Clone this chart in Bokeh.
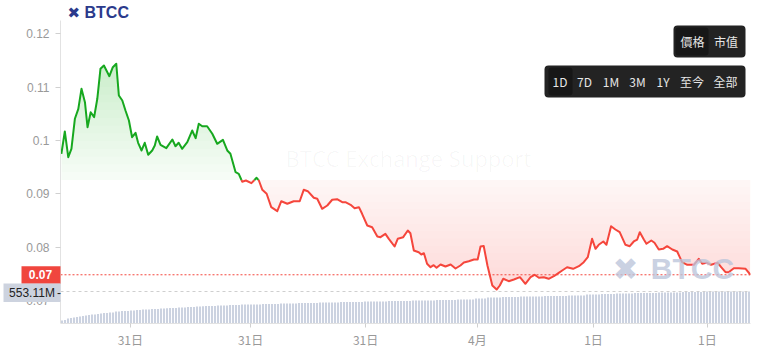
import numpy as np
from bokeh.plotting import figure
from bokeh.models import Range1d, FixedTicker, Label, BoxAnnotation
from bokeh.embed import file_html
from bokeh.resources import INLINE

# ---------------- data ----------------
time_h = [0.03, 0.15, 0.27, 0.38, 0.50, 0.62, 0.73, 0.85, 0.94, 1.05,
          1.17, 1.28, 1.39, 1.51, 1.70, 1.82, 1.94, 2.03, 2.15, 2.26,
          2.38, 2.49, 2.61, 2.70, 2.82, 2.93, 3.05, 3.19, 3.28, 3.36,
          3.48, 3.68, 3.89, 4.00, 4.11, 4.23, 4.41, 4.58, 4.70, 4.81,
          4.93, 5.10, 5.28, 5.45, 5.65, 5.80, 5.91, 6.09, 6.20, 6.32,
          6.45, 6.64, 6.82, 6.90, 7.02, 7.17, 7.33, 7.54, 7.68, 7.89,
          8.11, 8.32, 8.46, 8.60, 8.81, 8.93, 9.10, 9.28, 9.45, 9.62,
          9.80, 9.91, 10.09, 10.23, 10.38, 10.49, 10.67, 10.84, 11.02, 11.13,
          11.30, 11.42, 11.62, 11.73, 11.92, 12.08, 12.17, 12.29, 12.46, 12.55,
          12.64, 12.75, 12.87, 12.98, 13.08, 13.22, 13.39, 13.57, 13.74, 13.91,
          14.03, 14.20, 14.38, 14.51, 14.61, 14.72, 14.85, 15.02, 15.17, 15.28,
          15.40, 15.59, 15.77, 15.98, 16.17, 16.35, 16.49, 16.64, 16.81, 16.98,
          17.16, 17.33, 17.45, 17.62, 17.83, 18.03, 18.20, 18.34, 18.49, 18.61,
          18.72, 18.88, 18.99, 19.15, 19.30, 19.45, 19.65, 19.80, 19.94, 20.06,
          20.15, 20.29, 20.38, 20.55, 20.66, 20.81, 20.96, 21.10, 21.28, 21.45,
          21.62, 21.80, 22.03, 22.20, 22.32, 22.47, 22.63, 22.86, 22.98, 23.13,
          23.24, 23.42, 23.59, 23.83, 24.00]

price = [0.09751, 0.10169, 0.09687, 0.09844, 0.10407, 0.10594, 0.10969, 0.10718, 0.10249, 0.10530,
         0.10437, 0.10782, 0.11344, 0.11406, 0.11205, 0.11374, 0.11438, 0.10844, 0.10750, 0.10562,
         0.10375, 0.10062, 0.10144, 0.09957, 0.09813, 0.09957, 0.09732, 0.09813, 0.09906, 0.10075,
         0.09919, 0.09856, 0.10019, 0.09893, 0.09957, 0.09844, 0.09968, 0.10187, 0.10043, 0.10313,
         0.10268, 0.10268, 0.10126, 0.09938, 0.10013, 0.09813, 0.09751, 0.09406, 0.09376, 0.09228,
         0.09250, 0.09200, 0.09301, 0.09250, 0.09076, 0.09001, 0.08750, 0.08675, 0.08862, 0.08814,
         0.08862, 0.08862, 0.09076, 0.09050, 0.08926, 0.08907, 0.08720, 0.08782, 0.08889, 0.08900,
         0.08843, 0.08843, 0.08795, 0.08731, 0.08750, 0.08626, 0.08407, 0.08375, 0.08201, 0.08188,
         0.08251, 0.08157, 0.08013, 0.08157, 0.08188, 0.08313, 0.08262, 0.07938, 0.07906, 0.07863,
         0.07888, 0.07689, 0.07625, 0.07663, 0.07614, 0.07676, 0.07638, 0.07676, 0.07601, 0.07657,
         0.07713, 0.07738, 0.07769, 0.07769, 0.08013, 0.08023, 0.07657, 0.07282, 0.07207, 0.07282,
         0.07408, 0.07363, 0.07395, 0.07438, 0.07314, 0.07438, 0.07483, 0.07427, 0.07438, 0.07408,
         0.07456, 0.07520, 0.07563, 0.07625, 0.07595, 0.07644, 0.07719, 0.07813, 0.08157, 0.07970,
         0.08045, 0.08107, 0.08045, 0.08394, 0.08332, 0.08281, 0.08045, 0.08019, 0.08107, 0.08144,
         0.08281, 0.08144, 0.08064, 0.08126, 0.08083, 0.07957, 0.07970, 0.08019, 0.07957, 0.07919,
         0.07719, 0.07670, 0.07670, 0.07783, 0.07689, 0.07708, 0.07670, 0.07708, 0.07625, 0.07531,
         0.07531, 0.07606, 0.07606, 0.07595, 0.07483]

volume_m = [52, 60, 86, 95, 104, 112, 121, 130, 138, 147,
            156, 156, 164, 173, 181, 181, 190, 190, 207, 207,
            216, 216, 216, 225, 225, 233, 233, 242, 242, 242,
            250, 250, 250, 259, 259, 264, 268, 268, 268, 276,
            276, 276, 285, 285, 285, 294, 294, 299, 302, 302,
            302, 302, 311, 311, 311, 311, 319, 319, 319, 319,
            328, 328, 328, 328, 328, 328, 328, 337, 337, 337,
            337, 337, 337, 346, 346, 346, 346, 346, 346, 354,
            354, 354, 354, 354, 354, 354, 363, 363, 363, 363,
            363, 363, 363, 372, 372, 372, 372, 372, 372, 372,
            372, 380, 380, 380, 380, 380, 380, 380, 380, 389,
            389, 389, 389, 389, 389, 389, 389, 398, 398, 398,
            398, 398, 398, 398, 398, 406, 406, 406, 406, 406,
            406, 406, 415, 415, 415, 415, 415, 415, 432, 432,
            432, 432, 450, 450, 450, 450, 450, 458, 458, 458,
            458, 458, 458, 467, 467, 467, 467, 467, 467, 467,
            467, 476, 476, 476, 476, 476, 476, 476, 476, 484,
            484, 484, 484, 484, 484, 501, 501, 501, 501, 501,
            510, 510, 510, 510, 510, 519, 519, 519, 519, 519,
            519, 527, 527, 527, 527, 527, 527, 527, 527, 536,
            536, 536, 536, 536, 536, 536, 536, 545, 545, 545,
            545, 545, 545, 545, 545, 553, 553, 553, 553, 553,
            553, 553, 553, 553, 553, 553, 553, 553, 553, 553.11]

base_price = 0.0926          # reference price that splits green / red
x_tick_pos = [2.43, 6.61, 10.61, 14.50, 18.54, 22.50]
x_tick_labels = ["31日", "31日", "31日", "4月", "1日", "1日"]
y_ticks = [0.07, 0.08, 0.09, 0.1, 0.11, 0.12]
y_tick_labels = ["0.07", "0.08", "0.09", "0.1", "0.11", "0.12"]
price_tabs = ["價格", "市值"]
range_tabs = ["1D", "7D", "1M", "3M", "1Y", "至今", "全部"]

# ---------------- layout ----------------
W, H = 762, 351
FR, FB = 750, 323            # frame spans canvas x 0..750, y 0..323
X0, X1 = -2.08696, 24.0      # t = 0 sits at canvas x = 60
Y0, Y1 = 0.065698, 0.126242
VOL_END = 5583.0
N_VOL = len(volume_m)

GREEN = "#17a81f"
RED = "#f5463c"
PX_Y = (Y1 - Y0) / FB        # price units per pixel


def cx(px):
    return X0 + px * (X1 - X0) / FR


def cy(py):
    return Y1 - py * (Y1 - Y0) / FB


p = figure(width=W, height=H, x_range=Range1d(X0, X1), y_range=Range1d(Y0, Y1),
           output_backend="svg", toolbar_location=None, title=None,
           min_border_left=0, min_border_right=W - FR, min_border_top=0,
           min_border_bottom=H - FB)
p.outline_line_color = None
p.xgrid.visible = False
p.ygrid.visible = False
p.background_fill_color = "white"
p.border_fill_color = "white"
p.extra_x_ranges = {"vx": Range1d(-0.5 - 20, N_VOL - 0.5)}
p.extra_y_ranges = {"vy": Range1d(0, VOL_END)}

# axes
for ax in (p.xaxis, p.yaxis):
    ax.axis_line_color = "#e2e2e2"
    ax.major_tick_line_color = "#d0d0d0"
    ax.minor_tick_line_color = None
    ax.major_tick_in = 0
    ax.major_tick_out = 5
    ax.major_label_text_color = "#999999"
    ax.major_label_text_font_size = "12px"
p.yaxis.fixed_location = 0
p.yaxis.bounds = (Y0, cy(20))
p.yaxis.ticker = FixedTicker(ticks=y_ticks)
p.yaxis.major_label_overrides = dict(zip(y_ticks, y_tick_labels))
p.yaxis.major_label_text_font = "Liberation Sans"
p.yaxis.major_label_standoff = 6
p.xaxis.bounds = (0, X1)
p.xaxis.ticker = FixedTicker(ticks=x_tick_pos)
p.xaxis.major_label_overrides = dict(zip(x_tick_pos, x_tick_labels))
p.xaxis.major_label_text_font = "Noto Sans CJK TC"
p.xaxis.major_label_standoff = 3
p.xaxis.major_tick_out = 4

# volume bars
p.vbar(x=list(range(N_VOL)), top=volume_m, bottom=0, width=0.68,
       x_range_name="vx", y_range_name="vy", fill_color="#cbd2e0", line_color=None)
p.line(x=[-0.5, N_VOL - 0.5], y=[volume_m[-1], volume_m[-1]],
       x_range_name="vx", y_range_name="vy", line_color="#cfcfcf",
       line_dash="3 3", line_width=1)

# watermarks
p.add_layout(Label(x=cx(408), y=cy(157), text="BTCC Exchange Support",
                   text_align="center", text_baseline="middle",
                   text_font="Open Sans", text_font_size="22px",
                   text_color="#000000", text_alpha=0.035))
p.add_layout(Label(x=cx(625), y=cy(268), text="✖", text_align="center",
                   text_baseline="middle", text_font="DejaVu Sans",
                   text_font_size="31px", text_color="#bcc5da", text_alpha=0.8))
p.add_layout(Label(x=cx(692), y=cy(268), text="BTCC", text_align="center",
                   text_baseline="middle", text_font="Liberation Sans",
                   text_font_style="bold", text_font_size="30px",
                   text_color="#bcc5da", text_alpha=0.8))


# ---------------- price line and fills ----------------
def insert_cross(t, y, level):
    tt, yy = [t[0]], [y[0]]
    for i in range(1, len(t)):
        a, b = y[i - 1] - level, y[i] - level
        if a * b < 0:
            f = a / (a - b)
            tt.append(t[i - 1] + f * (t[i] - t[i - 1]))
            yy.append(level)
        tt.append(t[i])
        yy.append(y[i])
    return np.array(tt), np.array(yy)


t_arr, y_arr = insert_cross(list(time_h), list(price), base_price)

# green gradient (above the base)
g_levels = np.linspace(base_price, max(price), 16)[:-1]
for k, L in enumerate(g_levels):
    tl, yl = insert_cross(list(t_arr), list(y_arr), L)
    p.varea(x=tl, y1=np.full(len(tl), L), y2=np.maximum(yl, L),
            fill_color=GREEN, fill_alpha=0.04 if k == 0 else 0.011)

# red gradient (below the base)
r_levels = np.linspace(base_price, min(price), 16)[:-1]
for k, L in enumerate(r_levels):
    tl, yl = insert_cross(list(t_arr), list(y_arr), L)
    p.varea(x=tl, y1=np.minimum(yl, L), y2=np.full(len(tl), L),
            fill_color=RED, fill_alpha=0.05 if k == 0 else 0.013)

green_y = np.where(y_arr >= base_price - 1e-12, y_arr, np.nan)
red_y = np.where(y_arr <= base_price + 1e-12, y_arr, np.nan)
p.line(t_arr, red_y, line_color=RED, line_width=2, line_join="round")
p.line(t_arr, green_y, line_color=GREEN, line_width=2, line_join="round")

# current price line
p.line(x=[0, X1], y=[price[-1], price[-1]], line_color=RED,
       line_dash="2 2", line_width=1)

# left-hand value tags (background boxes + text)
last_p = price[-1]
p.add_layout(BoxAnnotation(left=cx(21), right=cx(60), top=last_p + 8.5 * PX_Y,
                           bottom=last_p - 9 * PX_Y, fill_color="#f0463e",
                           fill_alpha=1, line_color=None))
p.add_layout(Label(x=cx(40), y=last_p, text=f"{last_p:.2f}",
                   text_align="center", text_baseline="middle",
                   text_font="Liberation Sans", text_font_style="bold",
                   text_font_size="12px", text_color="white"))
vol_y = Y0 + volume_m[-1] / VOL_END * (Y1 - Y0)
p.add_layout(BoxAnnotation(left=cx(3), right=cx(60), top=vol_y + 8 * PX_Y,
                           bottom=vol_y - 10.5 * PX_Y, fill_color="#cdd3df",
                           fill_alpha=1, line_color=None))
p.add_layout(Label(x=cx(31.5), y=vol_y - 1.2 * PX_Y, text=f"{volume_m[-1]:.2f}M",
                   text_align="center", text_baseline="middle",
                   text_font="Liberation Sans", text_font_size="12px",
                   text_color="#222222"))
p.add_layout(Label(x=cx(58.5), y=vol_y - 1.2 * PX_Y, text="-",
                   text_align="center", text_baseline="middle",
                   text_font="Liberation Sans", text_font_size="12px",
                   text_color="#222222"))

# top-left logo
p.add_layout(Label(x=cx(67), y=cy(12), text="✖", text_baseline="middle",
                   text_font="DejaVu Sans", text_font_size="15px",
                   text_color="#2b3a8c"))
p.add_layout(Label(x=cx(84), y=cy(12), text="BTCC", text_baseline="middle",
                   text_font="Liberation Sans", text_font_style="bold",
                   text_font_size="16px", text_color="#2b3a8c"))

# top-right selector boxes
p.add_layout(BoxAnnotation(left=cx(673), right=cx(745), top=cy(25), bottom=cy(57),
                           fill_color="#232323", fill_alpha=1, line_color=None,
                           border_radius=4))
p.add_layout(BoxAnnotation(left=cx(675), right=cx(708), top=cy(27), bottom=cy(55),
                           fill_color="#171717", fill_alpha=1, line_color=None,
                           border_radius=3))
p.add_layout(BoxAnnotation(left=cx(544), right=cx(745), top=cy(65), bottom=cy(97),
                           fill_color="#232323", fill_alpha=1, line_color=None,
                           border_radius=4))
p.add_layout(BoxAnnotation(left=cx(548), right=cx(572), top=cy(67), bottom=cy(95),
                           fill_color="#171717", fill_alpha=1, line_color=None,
                           border_radius=3))
for txt, px in zip(price_tabs, [692, 725.5]):
    p.add_layout(Label(x=cx(px), y=cy(41), text=txt, text_align="center",
                       text_baseline="middle", text_font="Noto Sans CJK TC",
                       text_font_size="12px", text_color="#e6e6e6"))
for txt, px in zip(range_tabs, [559.5, 584, 610.5, 637, 662.5, 691.5, 725]):
    p.add_layout(Label(x=cx(px), y=cy(81), text=txt, text_align="center",
                       text_baseline="middle", text_font="Noto Sans CJK TC",
                       text_font_size="12px", text_color="#e6e6e6"))

open("out.html", "w", encoding="utf-8").write(file_html(p, INLINE))
